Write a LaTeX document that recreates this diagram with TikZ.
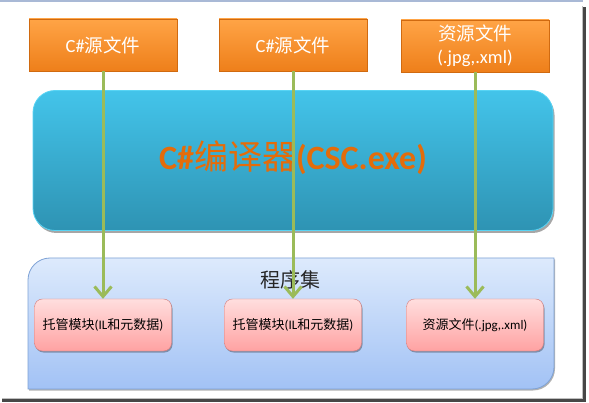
\documentclass[tikz,border=0pt]{standalone}
\usepackage{fontspec}
\setmainfont{Carlito}
\newfontfamily\cjk{Noto Sans CJK SC}
\usetikzlibrary{arrows.meta,shadows}
\definecolor{srctop}{HTML}{FFA446}
\definecolor{srcbot}{HTML}{EE7F1A}
\definecolor{srcborder}{HTML}{D06A10}
\definecolor{cyantop}{HTML}{43C4EA}
\definecolor{cyanbot}{HTML}{2E93B3}
\definecolor{cyanborder}{HTML}{58D4F4}
\definecolor{asmtop}{HTML}{DDEAFC}
\definecolor{asmbot}{HTML}{A2C2F5}
\definecolor{asmborder}{HTML}{7EA2D6}
\definecolor{pinktop}{HTML}{FFDEDE}
\definecolor{pinkbot}{HTML}{FFA2A2}
\definecolor{pinkborder}{HTML}{D27B7B}
\definecolor{arrgreen}{HTML}{9BBB59}
\definecolor{titleorange}{HTML}{E46C0A}
\definecolor{framegray}{HTML}{A9B9D6}
\begin{document}
\begin{tikzpicture}[x=1pt,y=-1pt,
  srcbox/.style={draw=srcborder, top color=srctop, bottom color=srcbot,
    minimum width=148pt, minimum height=52pt, inner sep=0pt, align=center,
    text=white, font=\fontsize{18.5}{23}\selectfont,
    drop shadow={shadow xshift=1pt, shadow yshift=-1.5pt, opacity=0.35, fill=black}},
  compbox/.style={draw=cyanborder, line width=0.8pt, top color=cyantop, bottom color=cyanbot,
    minimum width=520pt, minimum height=140pt, rounded corners=22pt, inner sep=0pt,
    drop shadow={shadow xshift=1.5pt, shadow yshift=-2.5pt, opacity=0.35, fill=black}},
  pinkbox/.style={draw=pinkborder, top color=pinktop, bottom color=pinkbot,
    minimum width=137pt, minimum height=52pt, rounded corners=8pt, inner sep=0pt,
    font=\fontsize{13}{15}\selectfont,
    drop shadow={shadow xshift=1pt, shadow yshift=-1.5pt, opacity=0.3, fill=black}},
  arr/.style={draw=arrgreen, line width=3pt, -{Straight Barb[length=10pt,width=17pt]}},
]
\useasboundingbox (0,0) rectangle (589,403);
% frame
\fill[white] (0,0) rectangle (583,399);
\fill[framegray] (0,0) rectangle (583,2);
\fill[black!25] (581.5,6) rectangle (583,399);
\fill[black!25] (2,397.5) rectangle (583,399);
\fill[black!72] (583,7) rectangle (585.5,401.5);
\fill[black!72] (2,399) rectangle (585.5,401.5);

% source boxes
\node[srcbox] (s1) at (103,45) {C\#{\cjk 源文件}};
\node[srcbox] (s2) at (293,45) {C\#{\cjk 源文件}};
\node[srcbox] (s3) at (475,46) {{\cjk 资源文件}\\(.jpg,.xml)};

% compiler
\node[compbox] (comp) at (293,160.5) {};
\node[text=titleorange, font=\fontsize{34}{40}\selectfont\bfseries] (title) at (293,158)
  {C\#{\cjk\mdseries 编译器}(CSC.exe)};

% assembly container
\path[draw=asmborder, line width=0.8pt, top color=asmtop, bottom color=asmbot,
  drop shadow={shadow xshift=1pt, shadow yshift=-1.5pt, opacity=0.3, fill=black}]
  (28,389) -- (28,280) .. controls (28,267.85) and (37.85,258) .. (50,258)
  -- (554,258) -- (554,367) .. controls (554,379.15) and (544.15,389) .. (532,389) -- cycle;
\node[font=\fontsize{20}{24}\selectfont\cjk, text=black!85] (asmlabel) at (290,280) {程序集};

% pink boxes
\node[pinkbox] (p1) at (103,325) {{\cjk 托管模块}(IL{\cjk 和元数据})};
\node[pinkbox] (p2) at (293,325) {{\cjk 托管模块}(IL{\cjk 和元数据})};
\node[pinkbox] (p3) at (475,325) {{\cjk 资源文件}(.jpg,.xml)};

% arrows
\draw[arr] (s1.south) -- (p1.north);
\draw[arr] (s2.south) -- (p2.north);
\draw[arr] (s3.south) -- (p3.north);
\end{tikzpicture}
\end{document}
